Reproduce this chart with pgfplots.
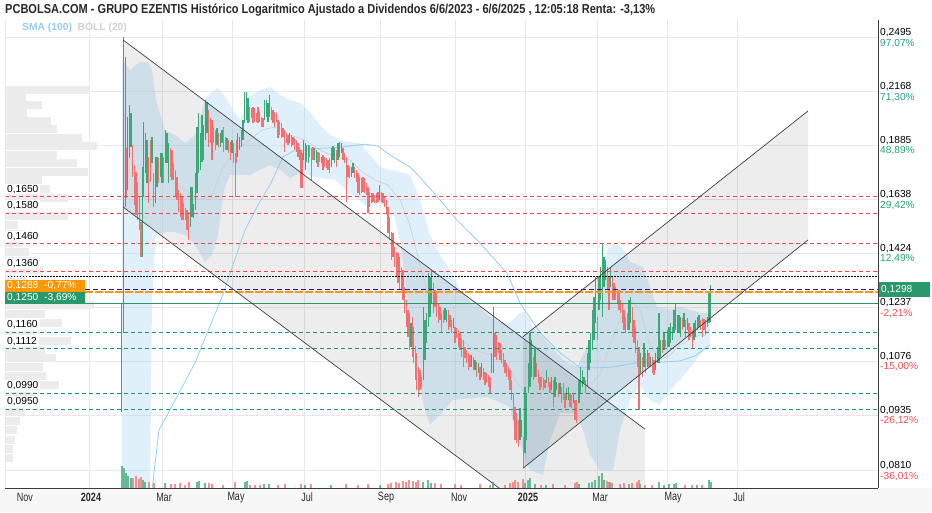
\documentclass[border=0pt]{standalone}
\usepackage{pgfplots}
\pgfplotsset{compat=1.18}
\usepackage{pgfplotstable}
\usepackage{graphicx}
\usepackage{fontspec}
\setmainfont{Liberation Sans}
\definecolor{cg}{RGB}{60,168,120}
\definecolor{cr}{RGB}{242,112,112}
\definecolor{cgrid}{RGB}{232,232,232}
\definecolor{cprof}{RGB}{236,236,236}
\definecolor{cbb}{RGB}{173,216,245}
\definecolor{csma}{RGB}{150,205,240}
\definecolor{cmid}{RGB}{205,205,205}
\definecolor{cdred}{RGB}{240,70,70}
\definecolor{cdgreen}{RGB}{30,150,105}
\definecolor{cblue}{RGB}{20,20,200}
\definecolor{corange}{RGB}{255,152,0}
\definecolor{cbox}{RGB}{41,153,107}
\definecolor{cpos}{RGB}{38,166,117}
\definecolor{cneg}{RGB}{240,80,80}
\definecolor{cframe}{RGB}{60,60,60}
\definecolor{ctxt}{RGB}{40,40,40}

% candles: x position, low, high
\pgfplotstableread{
x lo hi
121.3 0.0943 0.1252
123.7 0.1159 0.2500
125.3 0.1607 0.2373
127.7 0.1679 0.2030
129.3 0.1825 0.2094
131.0 0.1878 0.2051
142.3 0.1411 0.1783
143.7 0.1649 0.2004
145.3 0.1755 0.1948
147.0 0.1710 0.1912
152.0 0.1802 0.1927
155.3 0.1623 0.1830
157.0 0.1692 0.1830
160.3 0.1737 0.1849
162.0 0.1710 0.1849
165.3 0.1802 0.1963
167.0 0.1802 0.1948
168.7 0.1710 0.1897
190.3 0.1525 0.1692
192.0 0.1565 0.1692
193.7 0.1560 0.1620
195.3 0.1594 0.1755
197.0 0.1666 0.1978
198.7 0.1755 0.2051
200.3 0.1769 0.1948
202.0 0.1807 0.2041
203.7 0.1816 0.1988
205.3 0.1912 0.2122
207.0 0.1948 0.2111
217.0 0.1887 0.1973
220.3 0.1878 0.1948
222.0 0.1897 0.1963
227.0 0.1863 0.1922
232.0 0.1849 0.1912
237.7 0.1830 0.1948
239.7 0.1863 0.1927
241.3 0.1878 0.1963
243.0 0.1912 0.2014
244.7 0.1999 0.2167
246.3 0.2014 0.2167
248.0 0.1999 0.2133
264.7 0.2014 0.2122
266.3 0.2030 0.2122
268.0 0.2004 0.2105
269.7 0.2030 0.2150
289.7 0.1897 0.1948
303.8 0.1816 0.1912
305.3 0.1769 0.1897
306.8 0.1807 0.1887
308.3 0.1802 0.1887
314.7 0.1816 0.1873
316.3 0.1802 0.1863
321.3 0.1802 0.1830
331.3 0.1783 0.1873
333.0 0.1816 0.1882
334.7 0.1802 0.1873
338.0 0.1816 0.1897
339.7 0.1830 0.1902
341.3 0.1849 0.1897
351.3 0.1737 0.1783
353.0 0.1755 0.1802
379.7 0.1636 0.1701
411.0 0.1117 0.1189
423.3 0.1025 0.1240
425.0 0.1080 0.1198
426.7 0.1129 0.1220
428.3 0.1177 0.1353
430.0 0.1208 0.1339
431.7 0.1252 0.1364
445.0 0.1198 0.1236
446.7 0.1192 0.1230
453.3 0.1174 0.1204
471.7 0.1060 0.1094
475.0 0.1052 0.1080
478.3 0.1044 0.1072
481.7 0.1033 0.1072
491.7 0.1044 0.1100
493.2 0.1044 0.1240
520.0 0.0877 0.0953
521.7 0.0884 0.0924
525.0 0.0848 0.1007
526.7 0.0877 0.0991
528.3 0.0991 0.1072
530.0 0.1007 0.1159
531.7 0.1033 0.1138
535.0 0.1033 0.1114
546.7 0.1017 0.1052
551.7 0.0999 0.1033
555.0 0.0981 0.1033
556.7 0.0999 0.1020
560.0 0.0991 0.1017
566.7 0.0973 0.1004
568.3 0.0973 0.1007
573.3 0.0966 0.0991
579.0 0.0966 0.1025
580.7 0.0991 0.1060
582.3 0.1007 0.1052
584.0 0.1017 0.1033
587.3 0.1007 0.1100
589.0 0.1052 0.1138
590.7 0.1072 0.1159
592.3 0.1108 0.1230
594.0 0.1138 0.1272
595.7 0.1189 0.1339
599.0 0.1230 0.1339
600.7 0.1262 0.1375
602.3 0.1208 0.1463
604.0 0.1305 0.1411
605.7 0.1329 0.1400
610.7 0.1305 0.1375
629.0 0.1168 0.1262
630.7 0.1189 0.1272
640.7 0.1044 0.1100
644.0 0.1060 0.1129
647.3 0.1060 0.1108
650.7 0.1060 0.1088
655.7 0.1052 0.1100
657.3 0.1072 0.1117
659.0 0.1072 0.1220
660.7 0.1088 0.1138
664.0 0.1108 0.1159
667.3 0.1117 0.1168
669.0 0.1117 0.1177
670.7 0.1129 0.1189
672.3 0.1138 0.1177
674.0 0.1159 0.1230
675.7 0.1168 0.1252
677.3 0.1159 0.1214
679.0 0.1159 0.1214
680.7 0.1147 0.1208
684.0 0.1177 0.1220
687.3 0.1168 0.1204
694.0 0.1138 0.1189
695.7 0.1147 0.1198
697.3 0.1168 0.1208
699.0 0.1177 0.1214
707.3 0.1177 0.1208
709.0 0.1189 0.1285
710.7 0.1192 0.1312
}\greenc

\pgfplotstableread{
x lo hi
126.3 0.1645 0.1873
132.7 0.1737 0.1887
134.3 0.1615 0.1792
136.0 0.1573 0.1760
137.7 0.1553 0.1715
139.3 0.1513 0.1649
141.0 0.1411 0.1545
148.7 0.1623 0.1830
150.3 0.1715 0.1912
153.7 0.1607 0.1755
158.7 0.1710 0.1825
163.7 0.1710 0.1830
170.3 0.1737 0.1873
172.0 0.1724 0.1863
173.7 0.1724 0.1802
175.3 0.1649 0.1769
177.0 0.1636 0.1737
178.7 0.1586 0.1679
180.3 0.1565 0.1666
182.0 0.1553 0.1649
183.7 0.1553 0.1623
185.3 0.1553 0.1602
187.0 0.1513 0.1594
188.7 0.1475 0.1586
208.7 0.1878 0.2067
210.3 0.1897 0.2025
212.0 0.1816 0.2014
213.7 0.1897 0.1978
215.3 0.1863 0.1963
218.7 0.1878 0.1948
223.7 0.1853 0.1978
225.3 0.1863 0.1927
228.7 0.1849 0.1912
230.3 0.1816 0.1902
233.7 0.1802 0.1897
235.2 0.1649 0.1849
236.5 0.1802 0.1912
249.7 0.2004 0.2083
251.3 0.2025 0.2078
253.0 0.1999 0.2083
254.7 0.2004 0.2078
256.3 0.2004 0.2051
258.0 0.1999 0.2083
259.7 0.2004 0.2056
261.3 0.1978 0.2030
263.0 0.1978 0.2025
271.3 0.2014 0.2083
273.0 0.1999 0.2067
274.7 0.1978 0.2056
276.3 0.2004 0.2051
278.0 0.1922 0.2014
279.7 0.1937 0.2004
281.3 0.1922 0.1999
283.0 0.1927 0.1973
284.7 0.1853 0.1963
286.3 0.1897 0.1948
288.0 0.1887 0.1937
291.3 0.1878 0.1937
293.0 0.1887 0.1927
294.7 0.1863 0.1922
296.3 0.1853 0.1912
298.0 0.1830 0.1897
299.7 0.1816 0.1878
301.0 0.1688 0.1863
302.4 0.1688 0.1849
309.9 0.1830 0.1887
311.5 0.1724 0.1873
313.0 0.1816 0.1878
318.0 0.1783 0.1853
319.7 0.1807 0.1849
323.0 0.1769 0.1840
324.7 0.1783 0.1830
326.3 0.1778 0.1825
328.0 0.1769 0.1816
329.7 0.1755 0.1825
336.3 0.1783 0.1863
343.0 0.1816 0.1873
344.7 0.1802 0.1849
346.3 0.1627 0.1830
348.0 0.1737 0.1792
349.7 0.1733 0.1783
354.7 0.1733 0.1783
356.3 0.1715 0.1769
358.0 0.1666 0.1755
359.7 0.1657 0.1737
361.3 0.1666 0.1733
363.0 0.1670 0.1737
364.7 0.1666 0.1733
366.3 0.1657 0.1710
368.0 0.1582 0.1692
369.7 0.1607 0.1670
371.3 0.1623 0.1666
373.0 0.1627 0.1666
374.7 0.1623 0.1657
376.3 0.1623 0.1666
378.0 0.1627 0.1670
381.3 0.1627 0.1670
383.0 0.1623 0.1666
384.7 0.1607 0.1649
386.3 0.1582 0.1636
388.0 0.1501 0.1607
389.7 0.1475 0.1565
391.3 0.1400 0.1505
393.0 0.1411 0.1501
394.7 0.1375 0.1448
396.3 0.1340 0.1430
398.0 0.1319 0.1426
399.7 0.1295 0.1411
401.3 0.1295 0.1375
403.0 0.1262 0.1364
404.7 0.1220 0.1305
406.3 0.1177 0.1262
408.0 0.1147 0.1230
409.7 0.1108 0.1220
412.4 0.1088 0.1208
413.8 0.1072 0.1177
415.2 0.1025 0.1120
416.7 0.0999 0.1100
418.3 0.0981 0.1060
420.0 0.0999 0.1052
421.7 0.1004 0.1033
433.3 0.1220 0.1319
435.0 0.1240 0.1295
436.7 0.1208 0.1288
438.3 0.1189 0.1252
440.0 0.1198 0.1240
441.7 0.1159 0.1220
443.3 0.1189 0.1230
448.3 0.1168 0.1230
450.0 0.1177 0.1214
451.7 0.1159 0.1198
455.0 0.1129 0.1177
456.7 0.1144 0.1174
458.3 0.1117 0.1168
460.0 0.1108 0.1159
461.7 0.1088 0.1144
463.3 0.1060 0.1138
465.0 0.1086 0.1117
466.7 0.1072 0.1108
468.3 0.1052 0.1100
470.0 0.1060 0.1094
473.3 0.1052 0.1088
476.7 0.1033 0.1074
480.0 0.1025 0.1060
483.3 0.1025 0.1058
485.0 0.1012 0.1047
486.7 0.1017 0.1044
488.3 0.1007 0.1039
490.0 0.0991 0.1033
495.0 0.1088 0.1159
496.7 0.1080 0.1153
498.3 0.1100 0.1132
500.0 0.1080 0.1129
501.7 0.1072 0.1108
503.3 0.1060 0.1100
505.0 0.1044 0.1080
506.7 0.1033 0.1072
508.3 0.1025 0.1060
510.0 0.0999 0.1052
511.7 0.0973 0.1025
513.3 0.0924 0.0991
515.0 0.0877 0.0956
516.7 0.0870 0.0941
518.3 0.0861 0.0924
523.3 0.0815 0.0884
533.3 0.1025 0.1088
536.7 0.1033 0.1072
538.3 0.1017 0.1052
540.0 0.0999 0.1033
541.7 0.1007 0.1033
543.3 0.0999 0.1030
545.0 0.1004 0.1025
548.3 0.1007 0.1033
550.0 0.0991 0.1020
553.3 0.0956 0.1025
558.3 0.0981 0.1017
561.7 0.0966 0.1007
563.3 0.0973 0.1017
565.0 0.0953 0.0991
570.0 0.0956 0.0991
571.7 0.0953 0.0986
575.0 0.0924 0.0973
576.7 0.0917 0.0973
585.7 0.0991 0.1025
597.3 0.1138 0.1208
607.3 0.1295 0.1375
609.0 0.1230 0.1339
612.3 0.1262 0.1339
614.0 0.1262 0.1319
615.7 0.1262 0.1305
617.3 0.1252 0.1285
619.0 0.1230 0.1295
620.7 0.1220 0.1262
622.3 0.1189 0.1252
624.0 0.1168 0.1230
625.7 0.1159 0.1208
627.3 0.1168 0.1220
632.3 0.1147 0.1240
634.0 0.1129 0.1198
635.7 0.1100 0.1177
637.3 0.1060 0.1138
639.0 0.0948 0.1117
642.3 0.1033 0.1088
645.7 0.1044 0.1100
649.0 0.1060 0.1100
652.3 0.1044 0.1088
654.0 0.1039 0.1080
662.3 0.1100 0.1138
665.7 0.1117 0.1138
682.3 0.1168 0.1204
685.7 0.1147 0.1198
689.0 0.1138 0.1189
690.7 0.1147 0.1177
692.3 0.1114 0.1168
700.7 0.1168 0.1198
702.3 0.1147 0.1204
704.0 0.1168 0.1201
705.7 0.1153 0.1198
}\redc

\newcommand{\hl}[2]{\addplot[#2] coordinates {(5,#1) (878,#1)};}

\begin{document}
\begin{tikzpicture}[x=1pt,y=1pt]
\useasboundingbox (0,0) rectangle (932,512);
\fill[white] (0,0) rectangle (932,512);
\fill[black!3] (0,0) rectangle (932,24);

% ---------------- main price axis ----------------
\begin{axis}[
  at={(5pt,24pt)}, anchor=south west,
  scale only axis, width=873pt, height=468pt,
  xmin=5, xmax=878,
  ymode=log, ymin=0.07743, ymax=0.26117,
  axis line style={draw=none}, tick style={draw=none},
  xtick={89.5,162,232,304,380,455,525.5,597,667,737},
  ytick={0.0810,0.0935,0.1076,0.1237,0.1424,0.1638,0.1885,0.2168,0.2495},
  xticklabels={}, yticklabels={},
  xmajorgrids, ymajorgrids, grid style={cgrid, line width=0.7pt},
  clip=true,
]
% volume profile (left)
\addplot[xcomb, draw=cprof, line width=7.6pt, forget plot] coordinates {
(90,0.2178) (26,0.2133) (42,0.2094) (27,0.2051) (51,0.2009) (57,0.1968)
(82,0.1922) (97,0.1882) (57,0.1840) (77,0.1802) (88,0.1760) (42,0.1724)
(50,0.1683) (68,0.1645) (18,0.1607) (68,0.1569) (18,0.1533) (25,0.1498)
(20,0.1463) (29,0.1430) (35,0.1396) (43,0.1364) (25,0.1332) (65,0.1302)
(58,0.1272) (94,0.1246) (45,0.1217) (62,0.1189) (35,0.1162) (71,0.1135)
(45,0.1108) (56,0.1086) (43,0.1060) (46,0.1036) (59,0.1012) (35,0.0988)
(30,0.0966) (25,0.0943) (20,0.0922) (17,0.0900) (15,0.0877) (13,0.0857) (13,0.0837)};

% Bollinger band area
\addplot[fill=cbb, fill opacity=0.38, draw=none, forget plot] coordinates {
(122,0.2354) (130,0.2294) (140,0.2342) (148,0.2342) (152,0.2294) (156,0.2122)
(165,0.1963) (175,0.1937) (185,0.1897) (195,0.1937) (205,0.2122) (212,0.2167)
(218,0.2189) (224,0.2150) (230,0.2094) (240,0.2014) (250,0.2139) (260,0.2178)
(270,0.2195) (280,0.2150) (290,0.2122) (300,0.2105) (310,0.2056) (320,0.1988)
(330,0.1937) (340,0.1912) (350,0.1902) (360,0.1897) (370,0.1840) (380,0.1783)
(390,0.1769) (400,0.1760) (410,0.1746) (420,0.1636) (430,0.1494) (440,0.1419)
(450,0.1364) (460,0.1295) (470,0.1256) (480,0.1236) (490,0.1208) (500,0.1192)
(510,0.1189) (520,0.1220) (525,0.1224) (533,0.1174) (550,0.1123) (563,0.1080)
(577,0.1060) (590,0.1138) (600,0.1295) (607,0.1437) (615,0.1463) (622,0.1448)
(630,0.1393) (643,0.1375) (657,0.1240) (670,0.1230) (680,0.1240) (690,0.1230)
(700,0.1220) (710,0.1220)
(710,0.1129) (700,0.1094) (690,0.1058) (680,0.1025) (670,0.0999) (660,0.0961)
(650,0.0973) (640,0.1012) (630,0.0973) (620,0.0900) (613,0.0811) (600,0.0811)
(590,0.0844) (583,0.0900) (575,0.0941) (560,0.0941) (550,0.0877) (543,0.0801)
(530,0.0811) (523,0.0849) (515,0.0893) (510,0.0956) (487,0.0981) (477,0.0979)
(453,0.0973) (440,0.0936) (430,0.0912) (425,0.0948) (418,0.1033) (411,0.1177)
(401,0.1448) (395,0.1565) (381,0.1623) (368,0.1607) (355,0.1649) (335,0.1724)
(315,0.1737) (300,0.1755) (290,0.1733) (280,0.1769) (270,0.1792) (260,0.1769)
(250,0.1746) (240,0.1746) (230,0.1746) (224,0.1679) (218,0.1494) (212,0.1419)
(205,0.1393) (195,0.1456) (185,0.1494) (175,0.1505) (165,0.1505) (156,0.1494)
(152,0.1262) (150,0.0760) (122,0.0760)} -- cycle;

% channels (grey areas)
\addplot[fill=black, fill opacity=0.07, draw=none, forget plot] coordinates {
(123,0.2480) (645,0.0902) (645,0.0583) (123,0.1607)} -- cycle;
\addplot[fill=black, fill opacity=0.07, draw=none, forget plot] coordinates {
(523,0.1147) (808,0.2062) (808,0.1475) (523,0.0815)} -- cycle;

% Bollinger middle line
\addplot[cmid, line width=0.6pt, forget plot] coordinates {
(155,0.1724) (170,0.1724) (185,0.1679) (200,0.1636) (212,0.1657) (222,0.1769)
(235,0.1863) (250,0.1912) (262,0.1963) (275,0.1978) (290,0.1937) (305,0.1912)
(320,0.1863) (335,0.1830) (350,0.1816) (362,0.1760) (375,0.1724) (388,0.1701)
(400,0.1636) (410,0.1533) (420,0.1382) (430,0.1262) (445,0.1192) (460,0.1138)
(475,0.1108) (490,0.1094) (505,0.1080) (515,0.1025) (525,0.0991) (535,0.0999)
(550,0.1025) (565,0.1012) (580,0.0999) (590,0.1012) (600,0.1039) (610,0.1123)
(620,0.1198) (630,0.1262) (640,0.1230) (650,0.1123) (660,0.1080) (670,0.1094)
(680,0.1123) (690,0.1138) (700,0.1153) (710,0.1168)};

% SMA 100
\addplot[csma, line width=0.8pt, forget plot] coordinates {
(152,0.0770) (159,0.0900) (178,0.0986) (195,0.1072) (222,0.1272) (245,0.1513)
(259,0.1623) (270,0.1701) (283,0.1830) (293,0.1858) (310,0.1868) (343,0.1878)
(365,0.1892) (378,0.1882) (393,0.1830) (410,0.1783) (418,0.1746) (440,0.1636)
(457,0.1553) (480,0.1463) (507,0.1353) (520,0.1252) (540,0.1159) (560,0.1100)
(580,0.1058) (597,0.1058) (613,0.1060) (637,0.1072) (663,0.1074) (680,0.1077)
(695,0.1091) (710,0.1123)};

% candles
\addplot[draw=none, mark=none, forget plot,
  error bars/.cd, y dir=plus, y explicit, error mark=none,
  error bar style={draw=cg, line width=1.15pt, solid}]
  table[x=x, y=lo, y error expr=\thisrow{hi}-\thisrow{lo}] {\greenc};
\addplot[draw=none, mark=none, forget plot,
  error bars/.cd, y dir=plus, y explicit, error mark=none,
  error bar style={draw=cr, line width=1.15pt, solid}]
  table[x=x, y=lo, y error expr=\thisrow{hi}-\thisrow{lo}] {\redc};

% horizontal levels
\hl{0.1650}{cdred, line width=1.1pt, dash pattern=on 4pt off 3pt}
\hl{0.1580}{cdred, line width=1.1pt, dash pattern=on 4pt off 3pt}
\hl{0.1460}{cdred, line width=1.1pt, dash pattern=on 4pt off 3pt}
\hl{0.1360}{cdred, line width=1.1pt, dash pattern=on 4pt off 3pt}
\hl{0.1343}{black, line width=0.8pt, dash pattern=on 1.5pt off 1.5pt}
\hl{0.1298}{cblue, line width=1pt, dash pattern=on 5pt off 3pt}
\hl{0.1288}{corange, line width=1.2pt, dash pattern=on 8pt off 2pt}
\hl{0.1250}{cbox, line width=1pt}
\hl{0.1160}{cdgreen, line width=1.1pt, dash pattern=on 4pt off 3pt}
\hl{0.1112}{cdgreen, line width=1.1pt, dash pattern=on 4pt off 3pt}
\hl{0.0990}{cdgreen, line width=1.1pt, dash pattern=on 4pt off 3pt}
\hl{0.0950}{cdgreen, line width=1.1pt, dash pattern=on 4pt off 3pt}

% channel lines
\addplot[black!75, line width=0.7pt] coordinates {(123,0.2480) (645,0.0902)};
\addplot[black!75, line width=0.7pt] coordinates {(123,0.1607) (645,0.0583)};
\addplot[black!75, line width=0.7pt] coordinates {(523,0.0815) (808,0.1475)};
\addplot[black!75, line width=0.7pt] coordinates {(523,0.1147) (808,0.2062)};
\end{axis}

% ---------------- volume axis ----------------
\begin{axis}[
  at={(5pt,24pt)}, anchor=south west,
  scale only axis, width=873pt, height=468pt,
  xmin=5, xmax=878, ymin=0, ymax=468,
  hide axis, clip=true,
]
\addplot[ycomb, draw=cg, draw opacity=0.75, line width=1.1pt] coordinates {
(122,22) (124,20) (126,15) (128,12) (131,10) (143,8) (145,6) (165,5) (197,6)
(199,7) (205,5) (245,6) (247,7) (264,4) (269,4) (305,3) (331,3) (380,3) (423,6)
(428,8) (431,5) (493,6) (525,5) (528,8) (530,10) (535,4) (546,3) (579,4) (589,5)
(592,6) (595,8) (599,12) (602,15) (604,8) (610,6) (629,4) (640,4) (659,6) (664,3)
(669,4) (674,4) (676,5) (697,3) (709,8) (711,6)};
\addplot[ycomb, draw=cr, draw opacity=0.75, line width=1.1pt] coordinates {
(133,10) (136,12) (139,9) (141,11) (149,6) (154,5) (171,4) (175,4) (180,5)
(185,3) (189,6) (209,5) (212,4) (223,3) (235,6) (250,3) (255,3) (260,3) (278,3)
(285,4) (301,4) (311,4) (346,4) (358,3) (368,4) (388,4) (391,5) (396,6) (399,5)
(403,7) (406,6) (409,8) (413,7) (416,6) (418,8) (435,5) (441,4) (455,4) (461,3)
(480,4) (490,3) (505,3) (510,5) (513,6) (515,8) (518,6) (523,9) (541,3) (553,4)
(565,3) (575,5) (577,6) (607,7) (609,6) (612,5) (620,4) (624,5) (632,5) (637,6)
(639,8) (645,3) (652,3) (685,3) (692,3) (702,3)};
\end{axis}

% frame
\draw[cgrid, line width=0.7pt] (5,24) -- (5,492);
\draw[cframe, line width=1pt] (5,24) -- (878,24);
\draw[cframe, line width=1pt] (878,24) -- (878,492);

% title and indicator legend
\node[anchor=west, inner sep=0, text=ctxt] at (5,501.5)
  {\resizebox{650pt}{\height}{\fontsize{13}{15}\selectfont\bfseries PCBOLSA.COM - GRUPO EZENTIS Histórico Logaritmico Ajustado a Dividendos 6/6/2023 - 6/6/2025 , 12:05:18 Renta: -3,13\%}};
\node[anchor=west, inner sep=0, text=csma] at (22,484)
  {\fontsize{10.3}{12}\selectfont\bfseries SMA (100)};
\node[anchor=west, inner sep=0, text=black!18] at (77.5,484)
  {\fontsize{10.3}{12}\selectfont\bfseries BOLL (20)};

% right axis labels
\begin{scope}[every node/.style={anchor=west, inner sep=0, font=\fontsize{10.2}{12}\selectfont}]
\node at (880,479.4) {0,2495}; \node[text=cpos] at (880,468.9) {97,07\%};
\node at (880,425.3) {0,2168}; \node[text=cpos] at (880,414.8) {71,30\%};
\node at (880,371.5) {0,1885}; \node[text=cpos] at (880,361.0) {48,89\%};
\node at (880,317.4) {0,1638}; \node[text=cpos] at (880,306.9) {29,42\%};
\node at (880,263.5) {0,1424}; \node[text=cpos] at (880,253.0) {12,49\%};
\node at (880,209.3) {0,1237}; \node[text=cneg] at (880,198.8) {-2,21\%};
\node at (880,155.6) {0,1076}; \node[text=cneg] at (880,145.1) {-15,00\%};
\node at (880,101.5) {0,0935}; \node[text=cneg] at (880,91.0) {-26,12\%};
\node at (880,46.3) {0,0810}; \node[text=cneg] at (880,35.8) {-36,01\%};
\end{scope}
\fill[cbox] (879,215) rectangle (930,230);
\node[anchor=west, inner sep=0, text=white, font=\fontsize{10.2}{12}\selectfont] at (881,222.5) {0,1298};

% left level labels
\begin{scope}[every node/.style={anchor=west, fill=white, inner xsep=2pt, inner ysep=1.5pt, font=\fontsize{10.2}{12}\selectfont}]
\node at (5,322.7) {0,1650};
\node at (5,306.0) {0,1580};
\node at (5,275.6) {0,1460};
\node at (5,248.3) {0,1360};
\node at (5,187.0) {0,1160};
\node at (5,170.8) {0,1112};
\node at (5,126.0) {0,0990};
\node at (5,110.2) {0,0950};
\end{scope}
\fill[corange] (5,220) rectangle (85,232);
\fill[cbox] (5,208) rectangle (85,220);
\begin{scope}[every node/.style={anchor=west, inner sep=0, text=white, font=\fontsize{10.2}{12}\selectfont}]
\node at (7,226) {0,1288}; \node at (44,226) {-0,77\%};
\node at (7,214) {0,1250}; \node at (44,214) {-3,69\%};
\end{scope}

% x axis labels
\begin{scope}[every node/.style={inner sep=0, text=ctxt}]
\node at (25,14.5) {\scalebox{0.75}[1]{\fontsize{12}{14}\selectfont Nov}};
\node at (91,14.5) {\scalebox{0.75}[1]{\fontsize{12}{14}\selectfont\bfseries 2024}};
\node at (164,14.5) {\scalebox{0.75}[1]{\fontsize{12}{14}\selectfont Mar}};
\node at (236,14.5) {\scalebox{0.75}[1]{\fontsize{12}{14}\selectfont May}};
\node at (307,14.5) {\scalebox{0.75}[1]{\fontsize{12}{14}\selectfont Jul}};
\node at (386,14.5) {\scalebox{0.75}[1]{\fontsize{12}{14}\selectfont Sep}};
\node at (459,14.5) {\scalebox{0.75}[1]{\fontsize{12}{14}\selectfont Nov}};
\node at (528,14.5) {\scalebox{0.75}[1]{\fontsize{12}{14}\selectfont\bfseries 2025}};
\node at (600,14.5) {\scalebox{0.75}[1]{\fontsize{12}{14}\selectfont Mar}};
\node at (673,14.5) {\scalebox{0.75}[1]{\fontsize{12}{14}\selectfont May}};
\node at (739,14.5) {\scalebox{0.75}[1]{\fontsize{12}{14}\selectfont Jul}};
\end{scope}
\end{tikzpicture}
\end{document}
